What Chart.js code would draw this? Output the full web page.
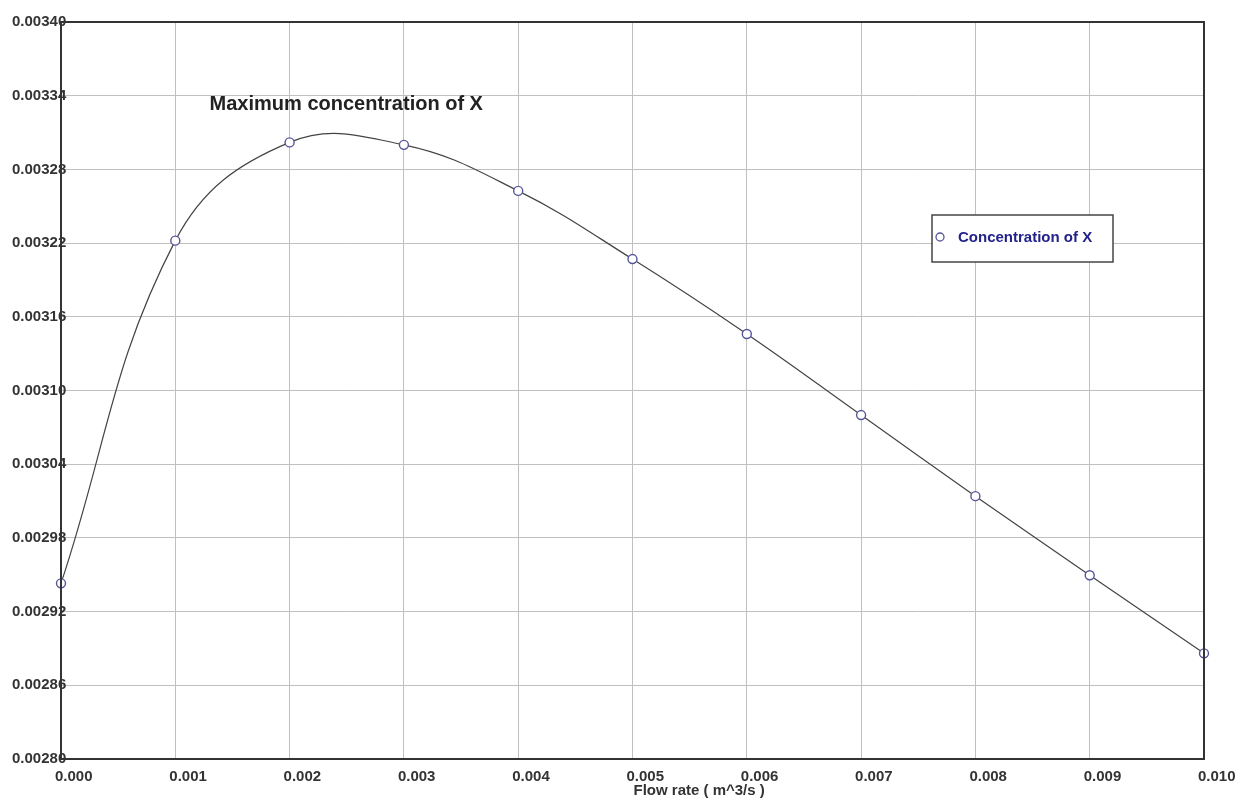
<!DOCTYPE html>
<html>
<head>
<meta charset="utf-8">
<title>Concentration of X</title>
<script src="https://cdn.jsdelivr.net/npm/chart.js@4/dist/chart.umd.min.js"></script>
<style>
    body { margin: 0; background: #ffffff; }
    #graph1 { display: block; }
</style>
</head>
<body>
<canvas id="graph1" width="1239" height="798"></canvas>
<script>
// Data (START) --------------------------------------------------
// Flow rate [m^3/s]
let flowRate = [0.000, 0.001, 0.002, 0.003, 0.004, 0.005, 0.006, 0.007, 0.008, 0.009, 0.010];

// Concentration of X
let concentration = [0.002943, 0.003222, 0.003302, 0.003300, 0.0032625, 0.003207,
    0.003146, 0.003080, 0.003014, 0.0029496, 0.002886];

// Tick values of both axes
let xTicks = [0.000, 0.001, 0.002, 0.003, 0.004, 0.005, 0.006, 0.007, 0.008, 0.009, 0.010];
let yTicks = [0.00280, 0.00286, 0.00292, 0.00298, 0.00304, 0.00310, 0.00316, 0.00322,
    0.00328, 0.00334, 0.00340];

let seriesLabel = "Concentration of X";
let noteText = "Maximum concentration of X";
let xTitle = "Flow rate ( m^3/s )";
// Data (END) ----------------------------------------------------

const FONT = "'Liberation Sans', Arial, sans-serif";

// Border round the whole plot area plus the x title, note and legend box
let decorations = {
    id: 'decorations',
    afterDraw(chart) {
        let ctx = chart.ctx;
        let area = chart.chartArea;
        let xs = chart.scales.x;
        let ys = chart.scales.y;

        ctx.save();

        // Plot frame
        ctx.strokeStyle = '#333333';
        ctx.lineWidth = 2;
        ctx.strokeRect(area.left, area.top, area.right - area.left, area.bottom - area.top);

        // Note near the maximum
        ctx.fillStyle = '#222222';
        ctx.font = "bold 20px " + FONT;
        ctx.textAlign = 'left';
        ctx.textBaseline = 'middle';
        ctx.fillText(noteText, xs.getPixelForValue(0.0013), ys.getPixelForValue(0.003333));

        // X title, starts at the middle tick like in the picture
        ctx.fillStyle = '#333333';
        ctx.font = "bold 15px " + FONT;
        ctx.fillText(xTitle, xs.getPixelForValue(0.005) + 1, area.bottom + 32);

        // Legend box
        let boxX = 932, boxY = 215, boxW = 181, boxH = 47;
        ctx.fillStyle = '#ffffff';
        ctx.fillRect(boxX, boxY, boxW, boxH);
        ctx.strokeStyle = '#444444';
        ctx.lineWidth = 1.5;
        ctx.strokeRect(boxX, boxY, boxW, boxH);

        ctx.beginPath();
        ctx.arc(boxX + 8, boxY + 22, 4, 0, Math.PI * 2);
        ctx.strokeStyle = '#55559a';
        ctx.lineWidth = 1.3;
        ctx.stroke();

        ctx.fillStyle = '#22228a';
        ctx.font = "bold 15px " + FONT;
        ctx.fillText(seriesLabel, boxX + 26, boxY + 23);

        ctx.restore();
    }
};

let dataGraph1 = {
    type: 'line',
    data: {
        datasets: [{
            label: seriesLabel,
            data: flowRate.map((x, i) => ({x: x, y: concentration[i]})),
            borderColor: '#444444',
            borderWidth: 1.2,
            tension: 0.4,
            clip: false,
            pointRadius: 4.5,
            pointBorderWidth: 1.4,
            pointBorderColor: '#55559a',
            pointBackgroundColor: '#ffffff',
            fill: false
        }]
    },
    options: {
        responsive: false,
        animation: false,
        layout: {padding: {top: 22, right: 35, left: 0, bottom: 0}},
        plugins: {
            legend: {display: false},
            tooltip: {enabled: false}
        },
        scales: {
            x: {
                type: 'linear',
                min: 0,
                max: 0.01,
                afterBuildTicks: function (scale) {
                    scale.ticks = xTicks.map(v => ({value: v}));
                },
                afterFit: function (scale) {
                    scale.height = 39;
                    scale.paddingLeft = 0;
                    scale.paddingRight = 0;
                },
                grid: {color: '#c0c0c0', lineWidth: 1, drawTicks: false},
                border: {display: false},
                ticks: {
                    align: 'start',
                    labelOffset: -6,
                    padding: 9,
                    maxRotation: 0,
                    autoSkip: false,
                    color: '#333333',
                    font: {family: FONT, size: 15, weight: 'bold'},
                    callback: v => v.toFixed(3)
                }
            },
            y: {
                type: 'linear',
                min: 0.0028,
                max: 0.0034,
                afterBuildTicks: function (scale) {
                    scale.ticks = yTicks.map(v => ({value: v}));
                },
                afterFit: function (scale) {
                    scale.width = 61;
                    scale.paddingTop = 0;
                    scale.paddingBottom = 0;
                },
                grid: {color: '#c0c0c0', lineWidth: 1, drawTicks: false},
                border: {display: false},
                ticks: {
                    // mirrored so the labels may run over the axis line
                    mirror: true,
                    padding: -49,
                    autoSkip: false,
                    color: '#333333',
                    font: {family: FONT, size: 15, weight: 'bold'},
                    callback: v => v.toFixed(5)
                }
            }
        }
    },
    plugins: [decorations]
};

// Make chart
let canvas1 = document.getElementById('graph1').getContext("2d");
let chart1 = new Chart(canvas1, dataGraph1);
</script>
</body>
</html>
